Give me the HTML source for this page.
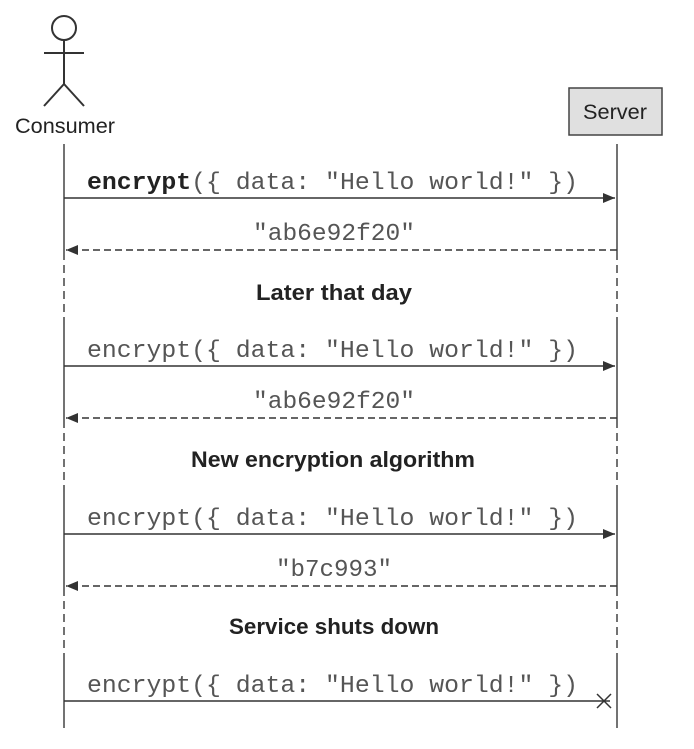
<!DOCTYPE html>
<html><head><style>body{margin:0;background:#fff}</style></head><body>
<svg width="694" height="744" xmlns="http://www.w3.org/2000/svg">
<defs>
<marker id="a" markerWidth="12" markerHeight="10" refX="12" refY="5" orient="auto" markerUnits="userSpaceOnUse"><path d="M0,0 L12,5 L0,10 z" fill="#333"/></marker>
</defs>
<g stroke="#333" stroke-width="2" fill="none">
<circle cx="64" cy="28" r="12"/>
<line x1="64" y1="40" x2="64" y2="84"/>
<line x1="44" y1="53" x2="84" y2="53"/>
<line x1="64" y1="84" x2="44" y2="106"/>
<line x1="64" y1="84" x2="84" y2="106"/>
</g>
<rect x="569" y="88" width="93" height="47" fill="#e0e0e0" stroke="#444" stroke-width="1.5"/>
<g font-family="Liberation Sans, sans-serif" font-size="21" fill="#222" text-anchor="middle">
<text x="65" y="133" textLength="100" lengthAdjust="spacingAndGlyphs">Consumer</text>
<text x="615" y="119" textLength="64" lengthAdjust="spacingAndGlyphs">Server</text>
</g>
<g stroke="#444" stroke-width="1.5">
<line x1="64" y1="144" x2="64" y2="252"/><line x1="617" y1="144" x2="617" y2="252"/>
<line x1="64" y1="252" x2="64" y2="325" stroke-dasharray="8,5"/><line x1="617" y1="252" x2="617" y2="325" stroke-dasharray="8,5"/>
<line x1="64" y1="325" x2="64" y2="420"/><line x1="617" y1="325" x2="617" y2="420"/>
<line x1="64" y1="420" x2="64" y2="492" stroke-dasharray="8,5"/><line x1="617" y1="420" x2="617" y2="492" stroke-dasharray="8,5"/>
<line x1="64" y1="492" x2="64" y2="588"/><line x1="617" y1="492" x2="617" y2="588"/>
<line x1="64" y1="588" x2="64" y2="660" stroke-dasharray="8,5"/><line x1="617" y1="588" x2="617" y2="660" stroke-dasharray="8,5"/>
<line x1="64" y1="660" x2="64" y2="728"/><line x1="617" y1="660" x2="617" y2="728"/>
</g>
<g stroke="#333" stroke-width="1.5">
<line x1="64" y1="198" x2="615" y2="198" marker-end="url(#a)"/>
<line x1="617" y1="250" x2="66" y2="250" stroke-dasharray="7,4" marker-end="url(#a)"/>
<line x1="64" y1="366" x2="615" y2="366" marker-end="url(#a)"/>
<line x1="617" y1="418" x2="66" y2="418" stroke-dasharray="7,4" marker-end="url(#a)"/>
<line x1="64" y1="534" x2="615" y2="534" marker-end="url(#a)"/>
<line x1="617" y1="586" x2="66" y2="586" stroke-dasharray="7,4" marker-end="url(#a)"/>
<line x1="64" y1="701" x2="610" y2="701"/>
<line x1="597" y1="694" x2="611" y2="708"/><line x1="611" y1="694" x2="597" y2="708"/>
</g>
<g font-family="Liberation Mono, monospace" font-size="24" fill="#555" lengthAdjust="spacingAndGlyphs">
<text x="87" y="189" textLength="491" lengthAdjust="spacingAndGlyphs"><tspan font-weight="bold" fill="#222">encrypt</tspan>({ data: "Hello world!" })</text>
<text x="253" y="240" textLength="162" lengthAdjust="spacingAndGlyphs">"ab6e92f20"</text>
<text x="87" y="357" textLength="491" lengthAdjust="spacingAndGlyphs">encrypt({ data: "Hello world!" })</text>
<text x="253" y="408" textLength="162" lengthAdjust="spacingAndGlyphs">"ab6e92f20"</text>
<text x="87" y="525" textLength="491" lengthAdjust="spacingAndGlyphs">encrypt({ data: "Hello world!" })</text>
<text x="276" y="576" textLength="116" lengthAdjust="spacingAndGlyphs">"b7c993"</text>
<text x="87" y="692" textLength="491" lengthAdjust="spacingAndGlyphs">encrypt({ data: "Hello world!" })</text>
</g>
<g font-family="Liberation Sans, sans-serif" font-size="22" font-weight="bold" fill="#222">
<text x="256" y="300" textLength="156" lengthAdjust="spacingAndGlyphs">Later that day</text>
<text x="191" y="467" textLength="284" lengthAdjust="spacingAndGlyphs">New encryption algorithm</text>
<text x="229" y="634" textLength="210" lengthAdjust="spacingAndGlyphs">Service shuts down</text>
</g>
</svg>
</body></html>
